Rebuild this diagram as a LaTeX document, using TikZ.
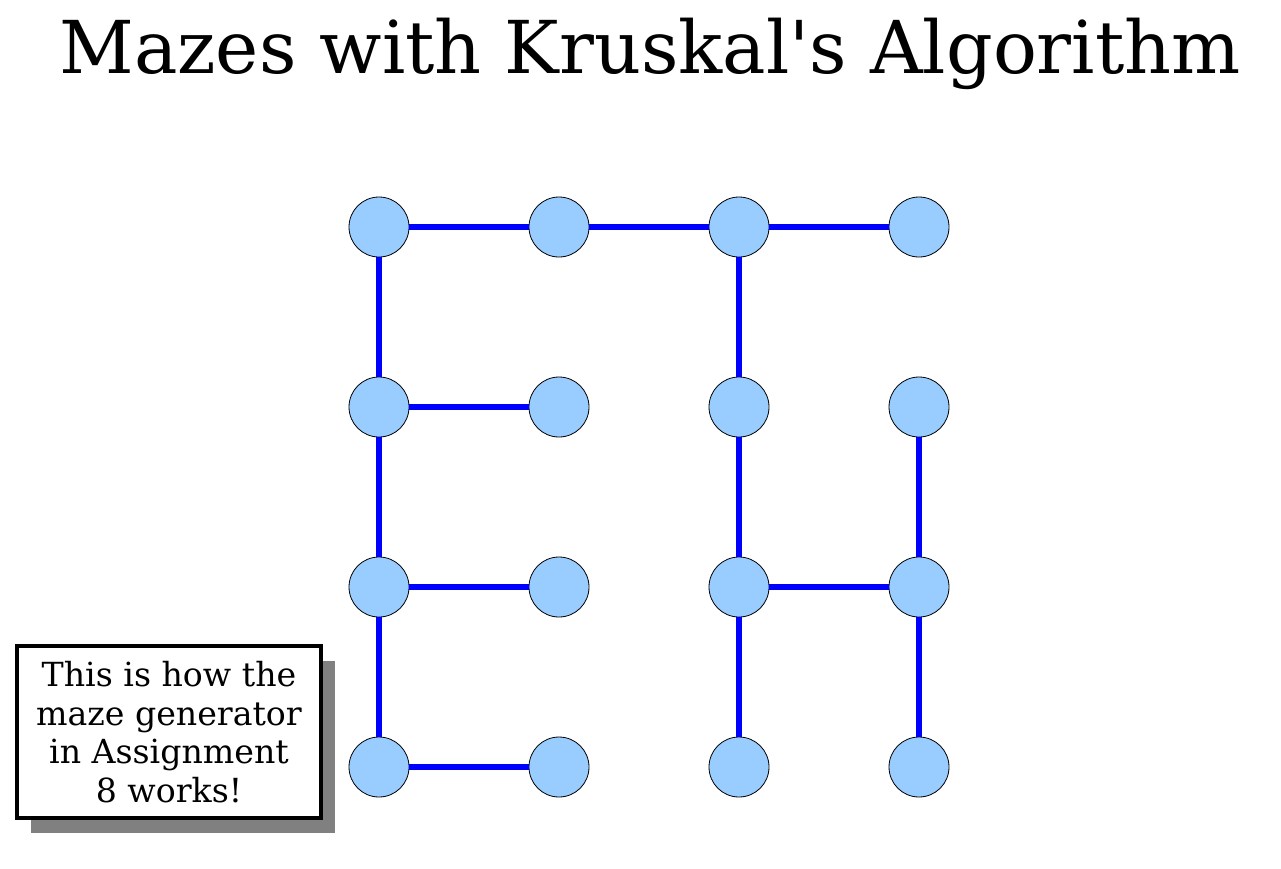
\documentclass[tikz,border=0pt]{standalone}
\usepackage{fontspec}
\setmainfont{DejaVu Serif}
\usepackage{tikz}
\usetikzlibrary{positioning,shadows}
\definecolor{cellblue}{HTML}{99CCFF}

\begin{document}
\begin{tikzpicture}[x=0.75pt,y=-0.75pt,
    cell/.style={circle,draw=black,line width=0.6pt,fill=cellblue,minimum size=45pt,inner sep=0pt},
    passage/.style={draw=blue,line width=4.5pt}]
    \useasboundingbox (0,0) rectangle (1281,868);

    \node (title) at (650,54) {\fontsize{54.7}{65}\selectfont Mazes with Kruskal\textquotesingle s Algorithm};

    % maze cells
    \foreach \c in {0,...,3}
        \foreach \r in {0,...,3}
            \node[cell] (n\c\r) at (379+180*\c,227+180*\r) {};

    % passages of the spanning tree
    \foreach \a/\b in {00/10,10/20,20/30,
                       00/01,01/02,02/03,
                       01/11,02/12,03/13,
                       20/21,21/22,22/23,
                       22/32,31/32,32/33}
        \draw[passage] (n\a) -- (n\b);

    \node[draw=black,line width=3pt,fill=white,minimum width=228pt,minimum height=129pt,
          align=center,font=\fontsize{24.9}{28.9}\selectfont,
          drop shadow={shadow xshift=10.5pt,shadow yshift=-11pt,fill=gray,opacity=1}]
          (note) at (169,732) {This is how the\\maze generator\\in Assignment\\8 works!};
\end{tikzpicture}
\end{document}
